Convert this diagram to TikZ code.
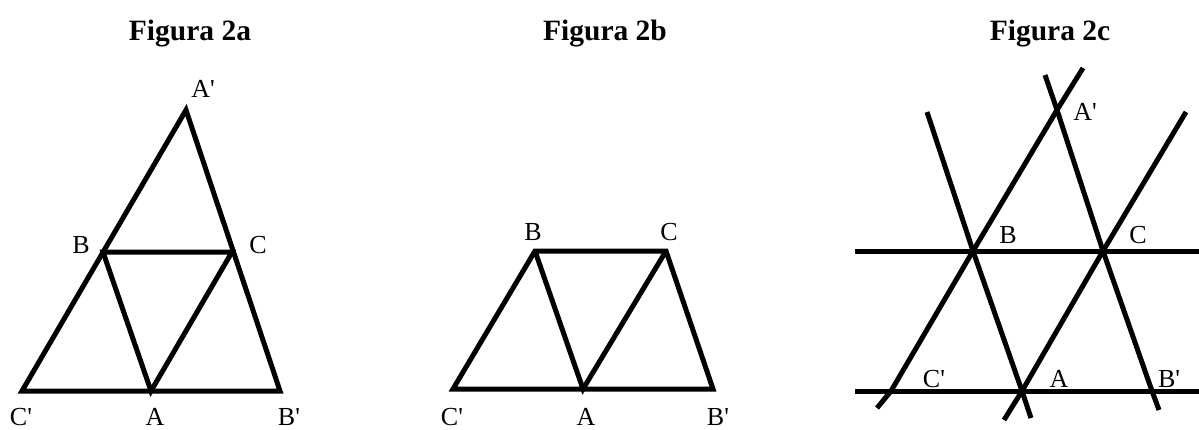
\documentclass[tikz,border=0pt]{standalone}
\usepackage{fontspec}
\setmainfont{Liberation Serif}
\begin{document}
\begin{tikzpicture}[x=1pt,y=-1pt,
  edge/.style={line width=5pt,line join=miter},
  lab/.style={anchor=base,inner sep=0pt,font=\fontsize{26}{30}\selectfont},
  ttl/.style={anchor=base,inner sep=0pt,font=\fontsize{29.5}{34}\selectfont\bfseries}]
\useasboundingbox (0,0) rectangle (1199,429);
% titles
\node[ttl] (t1) at (190,40) {Figura 2a};
\node[ttl] (t2) at (605,40) {Figura 2b};
\node[ttl] (t3) at (1050,40) {Figura 2c};
% ---- Figure 2a
\coordinate (aAp) at (186,110);
\coordinate (aB) at (103,252);
\coordinate (aC) at (232,252);
\coordinate (aCp) at (22,391);
\coordinate (aA) at (151,391);
\coordinate (aBp) at (280,391);
\draw[edge] (aCp) -- (aBp) -- (aAp) -- cycle;
\draw[edge] (aB) -- (aC) -- (aA) -- cycle;
\node[lab] (laAp) at (203,97) {A\textquotesingle};
\node[lab] (laB) at (81,253) {B};
\node[lab] (laC) at (258,253) {C};
\node[lab] (laCp) at (21,425) {C\textquotesingle};
\node[lab] (laA) at (155,425) {A};
\node[lab] (laBp) at (289,425) {B\textquotesingle};
% ---- Figure 2b
\coordinate (bB) at (535,251);
\coordinate (bC) at (666,251);
\coordinate (bCp) at (453,389);
\coordinate (bA) at (583,389);
\coordinate (bBp) at (713,389);
\draw[edge] (bCp) -- (bBp) -- (bC) -- (bB) -- cycle;
\draw[edge] (bB) -- (bA) -- (bC);
\node[lab] (lbB) at (533,240) {B};
\node[lab] (lbC) at (669,240) {C};
\node[lab] (lbCp) at (452,425) {C\textquotesingle};
\node[lab] (lbA) at (586,425) {A};
\node[lab] (lbBp) at (718,425) {B\textquotesingle};
% ---- Figure 2c
\coordinate (cB) at (973,251);
\coordinate (cC) at (1103,251);
\coordinate (cA) at (1022,391);
\coordinate (cAp) at (1057,110);
\coordinate (cCp) at (891,391);
\coordinate (cBp) at (1152,391);
\coordinate (h1l) at (855,251);
\coordinate (h1r) at (1199,251);
\coordinate (h2l) at (855,391);
\coordinate (h2r) at (1199,391);
\coordinate (l1a) at (877,408);
\coordinate (l1b) at (1083,68);
\coordinate (l2a) at (1004,420);
\coordinate (l2b) at (1186,112);
\coordinate (l3a) at (927,112);
\coordinate (l3b) at (1031,418);
\coordinate (l4a) at (1045,75);
\coordinate (l4b) at (1159,410);
\draw[edge] (h1l) -- (cB) -- (cC) -- (h1r);
\draw[edge] (h2l) -- (cCp) -- (cA) -- (cBp) -- (h2r);
\draw[edge] (l1a) -- (cCp) -- (cB) -- (cAp) -- (l1b);
\draw[edge] (l2a) -- (cA) -- (cC) -- (l2b);
\draw[edge] (l3a) -- (cB) -- (cA) -- (l3b);
\draw[edge] (l4a) -- (cAp) -- (cC) -- (cBp) -- (l4b);
\node[lab] (lcAp) at (1085,120) {A\textquotesingle};
\node[lab] (lcB) at (1008,243) {B};
\node[lab] (lcC) at (1138,243) {C};
\node[lab] (lcCp) at (934,387) {C\textquotesingle};
\node[lab] (lcA) at (1059,387) {A};
\node[lab] (lcBp) at (1169,387) {B\textquotesingle};
\end{tikzpicture}
\end{document}
